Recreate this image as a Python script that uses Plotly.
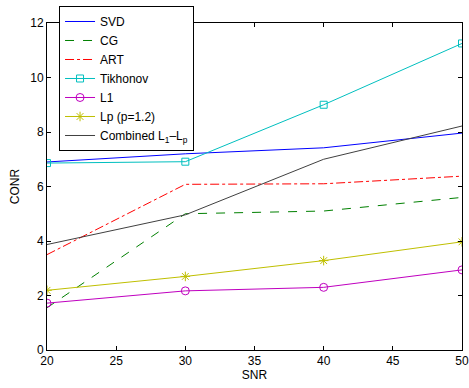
import plotly.graph_objects as go

snr = [20, 30, 40, 50]
svd = [6.90, 7.20, 7.42, 7.96]
cg = [1.55, 5.00, 5.10, 5.60]
art = [3.50, 6.08, 6.10, 6.38]
tikhonov = [6.86, 6.91, 9.00, 11.25]
l1 = [1.72, 2.17, 2.30, 2.94]
lp = [2.19, 2.70, 3.28, 3.97]
combined = [3.87, 4.96, 7.00, 8.22]

x_ticks = [20, 25, 30, 35, 40, 45, 50]
y_ticks = [0, 2, 4, 6, 8, 10, 12]

FONT = "Liberation Sans, Arial, Helvetica, sans-serif"

fig = go.Figure()
fig.add_trace(go.Scatter(x=snr, y=svd, name="SVD", mode="lines",
                         line=dict(color="#0000FF", width=1)))
fig.add_trace(go.Scatter(x=snr, y=cg, name="CG", mode="lines",
                         line=dict(color="#008000", width=1, dash="dash")))
fig.add_trace(go.Scatter(x=snr, y=art, name="ART", mode="lines",
                         line=dict(color="#FF0000", width=1, dash="dashdot")))
fig.add_trace(go.Scatter(x=snr, y=tikhonov, name="Tikhonov", mode="lines+markers",
                         line=dict(color="#00BFBF", width=1),
                         marker=dict(symbol="square-open", size=7, color="#00BFBF",
                                     line=dict(width=1))))
fig.add_trace(go.Scatter(x=snr, y=l1, name="L1", mode="lines+markers",
                         line=dict(color="#BF00BF", width=1),
                         marker=dict(symbol="circle-open", size=8, color="#BF00BF",
                                     line=dict(width=1))))
fig.add_trace(go.Scatter(x=snr, y=lp, name="Lp (p=1.2)", mode="lines+markers",
                         line=dict(color="#BFBF00", width=1),
                         marker=dict(symbol="asterisk-open", size=8, color="#BFBF00",
                                     line=dict(width=1, color="#BFBF00"))))
fig.add_trace(go.Scatter(x=snr, y=combined, name="Combined L<sub>1</sub>\u2013L<sub>p</sub>",
                         mode="lines", line=dict(color="#404040", width=1)))

axis_common = dict(showline=True, linecolor="black", linewidth=1, mirror="ticks",
                   ticks="inside", ticklen=4, tickcolor="black", showgrid=False,
                   zeroline=False, automargin=False,
                   tickfont=dict(size=12, color="black", family=FONT))

fig.update_layout(
    width=469, height=388,
    margin=dict(l=47, r=7, t=23, b=38, autoexpand=False),
    paper_bgcolor="white", plot_bgcolor="white",
    font=dict(family=FONT, size=12, color="black"),
    xaxis=dict(range=[20, 50], tickvals=x_ticks,
               title=dict(text="SNR", standoff=2, font=dict(size=12)), **axis_common),
    yaxis=dict(range=[0, 12], tickvals=y_ticks,
               title=dict(text="CONR", standoff=8, font=dict(size=12)), **axis_common),
    legend=dict(x=0.029, y=1.052, xanchor="left", yanchor="top",
                bgcolor="white", bordercolor="black", borderwidth=1,
                font=dict(size=12, color="black", family=FONT),
                tracegroupgap=0, itemwidth=30),
    showlegend=True,
)

fig.write_html("out.html", config={"displayModeBar": False},
               post_script="document.body.style.margin='0';document.body.style.overflow='hidden';")
